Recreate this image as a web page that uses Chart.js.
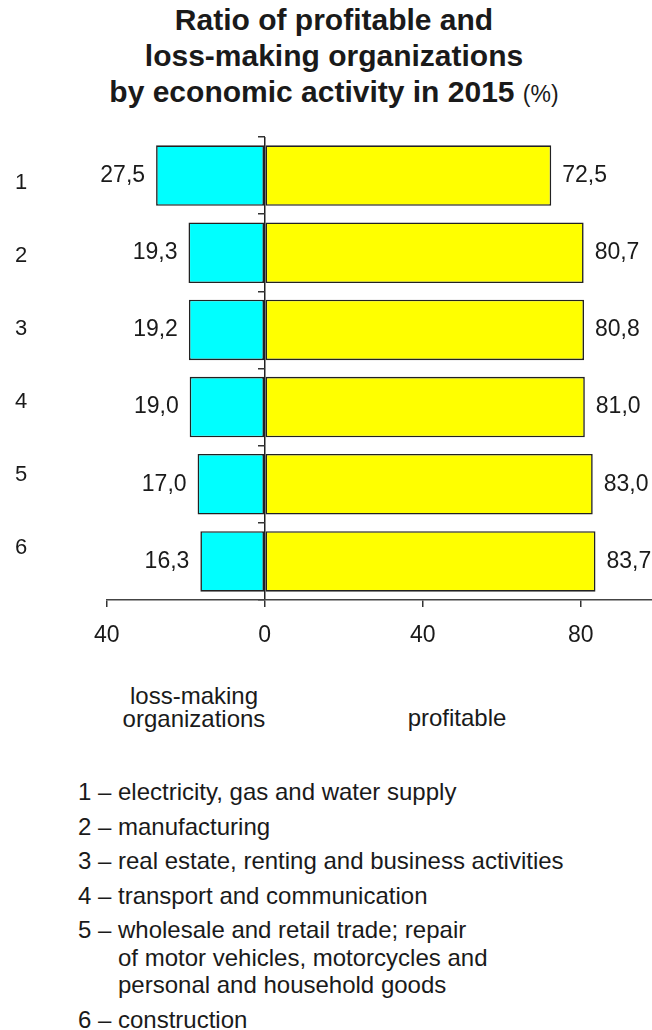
<!DOCTYPE html>
<html>
<head>
<meta charset="utf-8">
<script src="https://cdn.jsdelivr.net/npm/chart.js@4/dist/chart.umd.min.js"></script>
<style>
  html, body { margin: 0; padding: 0; background: #fff; }
  body { width: 652px; height: 1030px; position: relative; overflow: hidden;
         font-family: "Liberation Sans", Arial, Helvetica, sans-serif; color: #1a1a1a; }
  #chart { position: absolute; left: 0; top: 0; }
  .title { position: absolute; left: 0; top: 2px; width: 668px; text-align: center;
           font-weight: bold; font-size: 30px; line-height: 36px; }
  .title .unit { font-weight: normal; font-size: 23px; }
  .side { position: absolute; font-size: 24px; line-height: 23px; text-align: center; }
  .notes { position: absolute; left: 78px; top: 778px; margin: 0; padding: 0; list-style: none;
           font-size: 24px; line-height: 27.5px; }
  .notes li { display: flex; margin-bottom: 7px; }
  .notes .num { flex: 0 0 40px; white-space: nowrap; }
</style>
</head>
<body>
<div class="title">Ratio of profitable and<br>loss-making organizations<br>by economic activity in 2015 <span class="unit">(%)</span></div>
<canvas id="chart" width="652" height="660"></canvas>
<div class="side" style="left:114px; top:684px; width:160px;">loss-making<br>organizations</div>
<div class="side" style="left:377px; top:706px; width:160px;">profitable</div>
<ul class="notes" id="notes"></ul>

<script>
// Row numbers and the activities they stand for
const rowIds = ['1', '2', '3', '4', '5', '6'];
const activities = [
  'electricity, gas and water supply',
  'manufacturing',
  'real estate, renting and business activities',
  'transport and communication',
  'wholesale and retail trade; repair<br>of motor vehicles, motorcycles and<br>personal and household goods',
  'construction'
];
// Share of organizations, %
const lossMaking = [27.5, 19.3, 19.2, 19.0, 17.0, 16.3];
const profitable = [72.5, 80.7, 80.8, 81.0, 83.0, 83.7];
// Value axis ticks
const axisMin = -40;
const axisMax = 98;
const axisStep = 40;

const notes = document.getElementById('notes');
rowIds.forEach((id, i) => {
  const li = document.createElement('li');
  li.innerHTML = '<span class="num">' + id + ' \u2013</span><span>' + activities[i] + '</span>';
  notes.appendChild(li);
});

const FONT = '"Liberation Sans", Arial, Helvetica, sans-serif';
const INK = '#1a1a1a';

// Writes each bar's value (with a decimal comma) just outside its free end
const valueLabels = {
  id: 'valueLabels',
  afterDatasetsDraw(chart) {
    const ctx = chart.ctx;
    ctx.save();
    ctx.font = '23px ' + FONT;
    ctx.fillStyle = INK;
    ctx.textBaseline = 'middle';
    chart.data.datasets.forEach((ds, i) => {
      const meta = chart.getDatasetMeta(i);
      meta.data.forEach((bar, j) => {
        const v = ds.data[j];
        const txt = Math.abs(v).toFixed(1).replace('.', ',');
        const p = bar.getProps(['x', 'y'], true);
        if (v < 0) {
          ctx.textAlign = 'right';
          ctx.fillText(txt, p.x - 11, p.y);
        } else {
          ctx.textAlign = 'left';
          ctx.fillText(txt, p.x + 11, p.y);
        }
      });
    });
    ctx.restore();
  }
};

new Chart(document.getElementById('chart'), {
  type: 'bar',
  data: {
    labels: rowIds,
    datasets: [
      {
        label: 'loss-making organizations',
        data: lossMaking.map(v => -v),
        backgroundColor: '#00ffff',
        borderColor: '#222',
        borderWidth: 1.6,
        borderSkipped: false
      },
      {
        label: 'profitable',
        data: profitable,
        backgroundColor: '#ffff00',
        borderColor: '#222',
        borderWidth: 1.6,
        borderSkipped: false
      }
    ]
  },
  options: {
    indexAxis: 'y',
    responsive: false,
    devicePixelRatio: 1,
    animation: false,
    barPercentage: 0.785,
    categoryPercentage: 1,
    layout: { padding: { top: 137, left: 15, right: 0, bottom: 0 } },
    plugins: { legend: { display: false }, title: { display: false }, tooltip: { enabled: false } },
    scales: {
      x: {
        type: 'linear',
        min: axisMin,
        max: axisMax,
        stacked: true,
        ticks: {
          stepSize: axisStep,
          includeBounds: false,
          padding: 15,
          color: INK,
          font: { family: FONT, size: 23 },
          callback: v => String(Math.abs(v))
        },
        grid: {
          drawOnChartArea: true,
          color: c => (c.tick && c.tick.value === 0 ? '#222' : 'rgba(0,0,0,0)'),
          tickColor: '#333',
          tickLength: 7,
          lineWidth: 1.5
        },
        border: { display: true, color: '#444', width: 1.5 },
        afterFit: s => { s.height = 60; }
      },
      y: {
        type: 'category',
        position: { x: 0 },
        stacked: true,
        offset: true,
        ticks: { display: false },
        grid: {
          offset: true,
          drawOnChartArea: false,
          drawTicks: true,
          tickLength: 7,
          color: '#333',
          lineWidth: 1.5
        },
        border: { display: false }
      },
      // Row numbers down the left side
      rows: {
        type: 'linear',
        position: 'left',
        reverse: true,
        offset: false,
        min: 0.37,
        max: 6.712,
        ticks: {
          stepSize: 1,
          includeBounds: false,
          padding: 0,
          crossAlign: 'far',
          color: INK,
          font: { family: FONT, size: 22 },
          callback: v => rowIds[v - 1] ?? ''
        },
        grid: { display: false },
        border: { display: false },
        afterFit: s => { s.width = 91.7; }
      }
    }
  },
  plugins: [valueLabels]
});
</script>
</body>
</html>
